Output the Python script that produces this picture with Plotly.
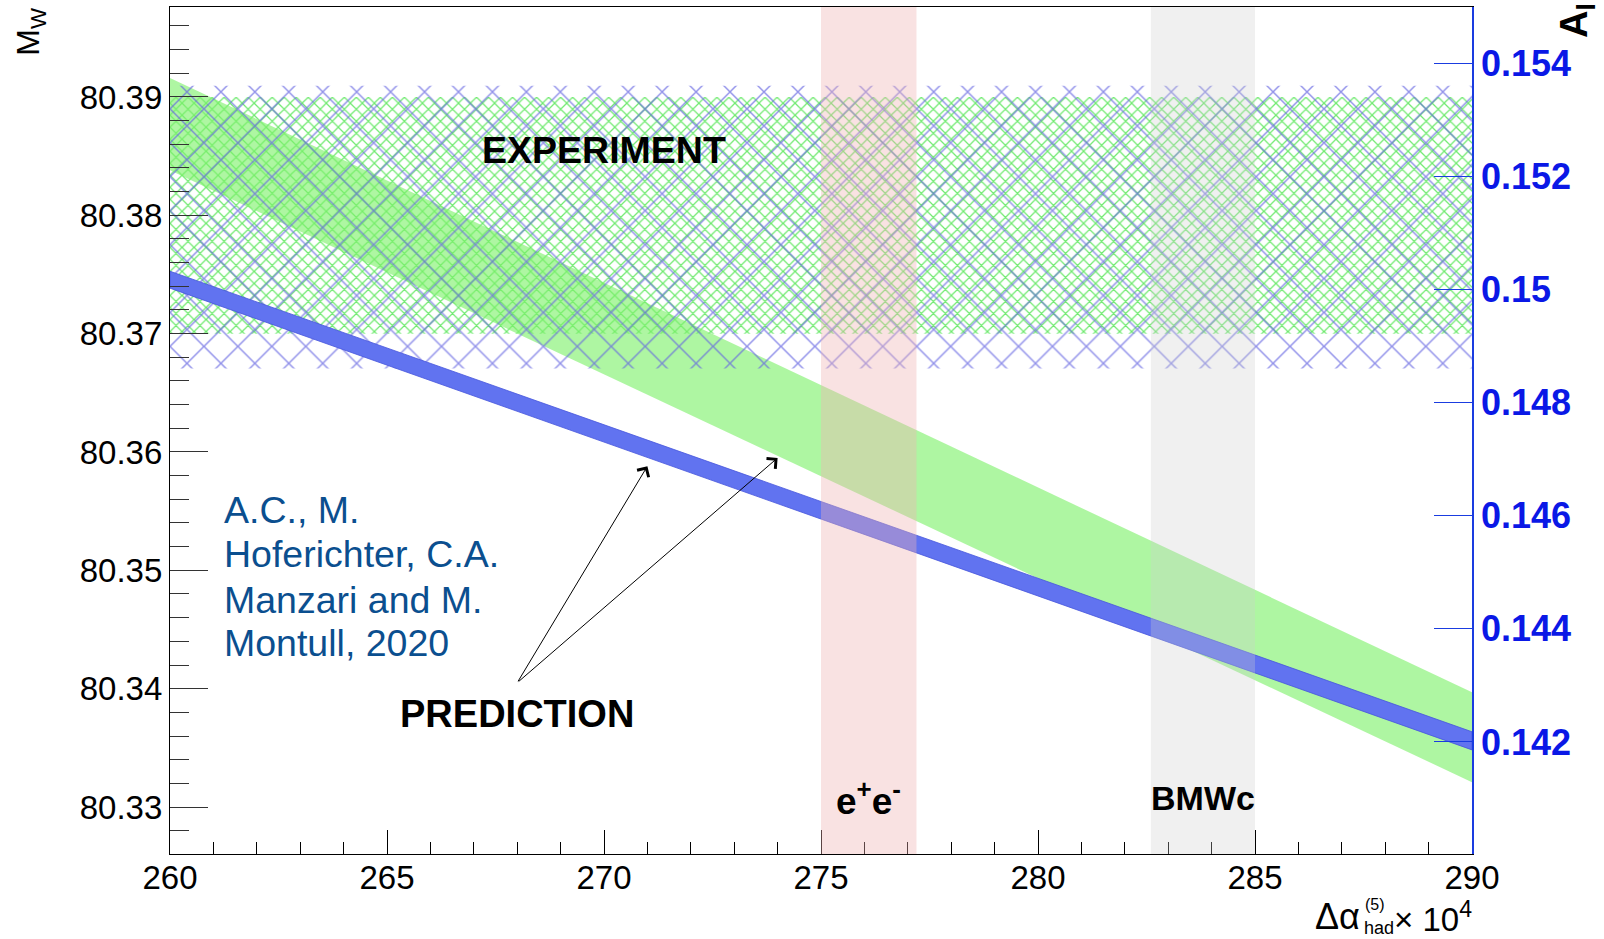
import plotly.graph_objects as go

# ---------------- data ----------------
x_ends = [260, 290]
# SM prediction for M_W (left axis), band edges at the two ends
mw_upper = [80.3916, 80.3397]
mw_lower = [80.3838, 80.3321]
# SM prediction for A_l (right axis)
al_upper = [0.15032, 0.14218]
al_lower = [0.15002, 0.14186]
# experimental bands
mw_exp = [80.370, 80.390]
al_exp = [0.1486, 0.1536]
# Delta alpha_had determinations (x ranges)
ee_range = [275.0, 277.2]
bmw_range = [282.6, 285.0]
# axes
x_range = [260, 290]
x_ticks = [260, 265, 270, 275, 280, 285, 290]
y_range = [80.32603, 80.3976]
y_ticks = [80.33, 80.34, 80.35, 80.36, 80.37, 80.38, 80.39]
y2_range = [0.14002, 0.15499]
y2_ticks = [0.142, 0.144, 0.146, 0.148, 0.150, 0.152, 0.154]
y2_labels = ["0.142", "0.144", "0.146", "0.148", "0.15", "0.152", "0.154"]
# annotation anchor points (data coords)
arrow_tail = [268.0, 80.3405]
arrow_heads = [[271.0, 80.3588], [274.0, 80.3595]]
citation_lines = ["A.C., M.", "Hoferichter, C.A.", "Manzari and M.", "Montull, 2020"]
citation_y = [80.35514, 80.35134, 80.34753, 80.34382]

FONT = "Liberation Sans, Arial, Helvetica, sans-serif"

fig = go.Figure()

# experimental M_W hatch (fine, green)
fig.add_trace(go.Scatter(
    x=[x_ends[0], x_ends[1], x_ends[1], x_ends[0], x_ends[0]],
    y=[mw_exp[0], mw_exp[0], mw_exp[1], mw_exp[1], mw_exp[0]],
    fill="toself", mode="none", fillcolor="rgba(0,0,0,0)",
    fillpattern=dict(shape="x", size=8.5, solidity=0.27, fgcolor="rgb(85,230,85)",
                     fgopacity=0.85, bgcolor="rgba(0,0,0,0)", fillmode="overlay"),
    showlegend=False, hoverinfo="skip", yaxis="y"))

# M_W prediction band
fig.add_trace(go.Scatter(
    x=x_ends + x_ends[::-1] + [x_ends[0]],
    y=mw_upper + mw_lower[::-1] + [mw_upper[0]],
    fill="toself", mode="none", fillcolor="rgba(125,240,105,0.62)",
    showlegend=False, hoverinfo="skip", yaxis="y"))

# experimental A_l hatch (coarse, blue)
fig.add_trace(go.Scatter(
    x=[x_ends[0], x_ends[1], x_ends[1], x_ends[0], x_ends[0]],
    y=[al_exp[0], al_exp[0], al_exp[1], al_exp[1], al_exp[0]],
    fill="toself", mode="none", fillcolor="rgba(0,0,0,0)",
    fillpattern=dict(shape="x", size=24, solidity=0.12, fgcolor="rgb(100,100,225)",
                     fgopacity=0.7, bgcolor="rgba(0,0,0,0)", fillmode="overlay"),
    showlegend=False, hoverinfo="skip", yaxis="y2"))

# A_l prediction band
fig.add_trace(go.Scatter(
    x=x_ends + x_ends[::-1] + [x_ends[0]],
    y=al_upper + al_lower[::-1] + [al_upper[0]],
    fill="toself", mode="lines", line=dict(color="rgb(70,85,220)", width=0.8),
    fillcolor="rgb(97,115,240)",
    showlegend=False, hoverinfo="skip", yaxis="y2"))

# vertical bands
fig.add_shape(type="rect", xref="x", yref="paper", x0=ee_range[0], x1=ee_range[1],
              y0=0, y1=1, fillcolor="rgba(240,180,180,0.38)", line=dict(width=0), layer="above")
fig.add_shape(type="rect", xref="x", yref="paper", x0=bmw_range[0], x1=bmw_range[1],
              y0=0, y1=1, fillcolor="rgba(205,205,205,0.3)", line=dict(width=0), layer="above")

ann = []
ann.append(dict(x=270.0, y=80.3855, xref="x", yref="y", text="<b>EXPERIMENT</b>",
                xanchor="center", yanchor="middle",
                showarrow=False, font=dict(family=FONT, size=37.5, color="black")))
ann.append(dict(x=268.0, y=80.3379, xref="x", yref="y", text="<b>PREDICTION</b>",
                xanchor="center", yanchor="middle",
                showarrow=False, font=dict(family=FONT, size=38, color="black")))
for hx, hy in arrow_heads:
    ann.append(dict(x=hx, y=hy, xref="x", yref="y", ax=arrow_tail[0], ay=arrow_tail[1],
                    axref="x", ayref="y", text="", showarrow=True, arrowhead=4,
                    arrowsize=2.6, arrowwidth=1, arrowcolor="black", standoff=0))
ann.append(dict(x=(ee_range[0] + ee_range[1]) / 2, y=0.066, xref="x", yref="paper",
                xanchor="center", yanchor="middle",
                text="<b>e<sup>+</sup>e<sup>-</sup></b>", showarrow=False,
                font=dict(family=FONT, size=37, color="black")))
ann.append(dict(x=(bmw_range[0] + bmw_range[1]) / 2, y=0.066, xref="x", yref="paper",
                xanchor="center", yanchor="middle",
                text="<b>BMWc</b>", showarrow=False,
                font=dict(family=FONT, size=34, color="black")))
for line, ly in zip(citation_lines, citation_y):
    ann.append(dict(x=261.2, y=ly, xref="x", yref="y", xanchor="left", yanchor="middle",
                    align="left", text=line, showarrow=False,
                    font=dict(family=FONT, size=37.5, color="#0b4f8f")))
# axis titles
ann.append(dict(x=-0.1068, y=0.972, xref="paper", yref="paper", text="M<sub>W</sub>",
                xanchor="center", yanchor="middle",
                textangle=-90, showarrow=False, font=dict(family=FONT, size=32, color="black")))
ann.append(dict(x=1.0805, y=0.9845, xref="paper", yref="paper", text="<b>A<sub>l</sub></b>",
                xanchor="center", yanchor="middle",
                textangle=-90, showarrow=False, font=dict(family=FONT, size=38, color="black")))
ann.append(dict(x=0.9155, y=-0.0732, xref="paper", yref="paper", xanchor="right",
                yanchor="middle",
                text="Δα", showarrow=False, font=dict(family=FONT, size=36, color="black")))
ann.append(dict(x=0.9160, y=-0.0602, xref="paper", yref="paper", xanchor="left",
                yanchor="middle",
                text="(5)", showarrow=False, font=dict(family=FONT, size=16, color="black")))
ann.append(dict(x=0.9155, y=-0.0870, xref="paper", yref="paper", xanchor="left",
                yanchor="middle",
                text="had", showarrow=False, font=dict(family=FONT, size=18, color="black")))
ann.append(dict(x=0.9385, y=-0.0745, xref="paper", yref="paper", xanchor="left",
                yanchor="middle",
                text="× 10<sup>4</sup>", showarrow=False, font=dict(family=FONT, size=33, color="black")))

fig.update_layout(
    width=1604, height=939,
    margin=dict(l=170, r=132, t=7, b=85),
    paper_bgcolor="white", plot_bgcolor="white",
    showlegend=False,
    annotations=ann,
    xaxis=dict(range=x_range, tickvals=x_ticks, ticks="inside", ticklen=24, tickwidth=1,
               tickcolor="black", showline=True, linecolor="black", linewidth=1.2,
               mirror=True, showgrid=False, zeroline=False,
               minor=dict(dtick=1, ticks="inside", ticklen=12, tickcolor="black", tickwidth=1),
               tickfont=dict(family=FONT, size=33, color="black"), ticklabelstandoff=-6),
    yaxis=dict(range=y_range, tickvals=y_ticks, tickformat=".2f", ticks="inside", ticklen=38,
               tickwidth=1.2, tickcolor="#333", showline=True, linecolor="black", linewidth=1.2,
               showgrid=False, zeroline=False,
               minor=dict(dtick=0.002, tick0=80.33, ticks="inside", ticklen=19,
                          tickcolor="#333", tickwidth=1.2),
               tickfont=dict(family=FONT, size=33, color="black"), ticklabelstandoff=0),
    yaxis2=dict(range=y2_range, overlaying="y", side="right", tickvals=y2_ticks,
                ticktext=["<b>%s</b>" % t for t in y2_labels], ticks="inside", ticklen=38,
                tickwidth=1.2, tickcolor="#1a3ce0", showline=True, linecolor="#1a3ce0",
                linewidth=1.5, showgrid=False, zeroline=False,
                tickfont=dict(family=FONT, size=36, color="#0a18e6"), ticklabelstandoff=0),
)

fig.write_html("out.html", config={"displayModeBar": False},
               post_script="document.body.style.margin='0';")
